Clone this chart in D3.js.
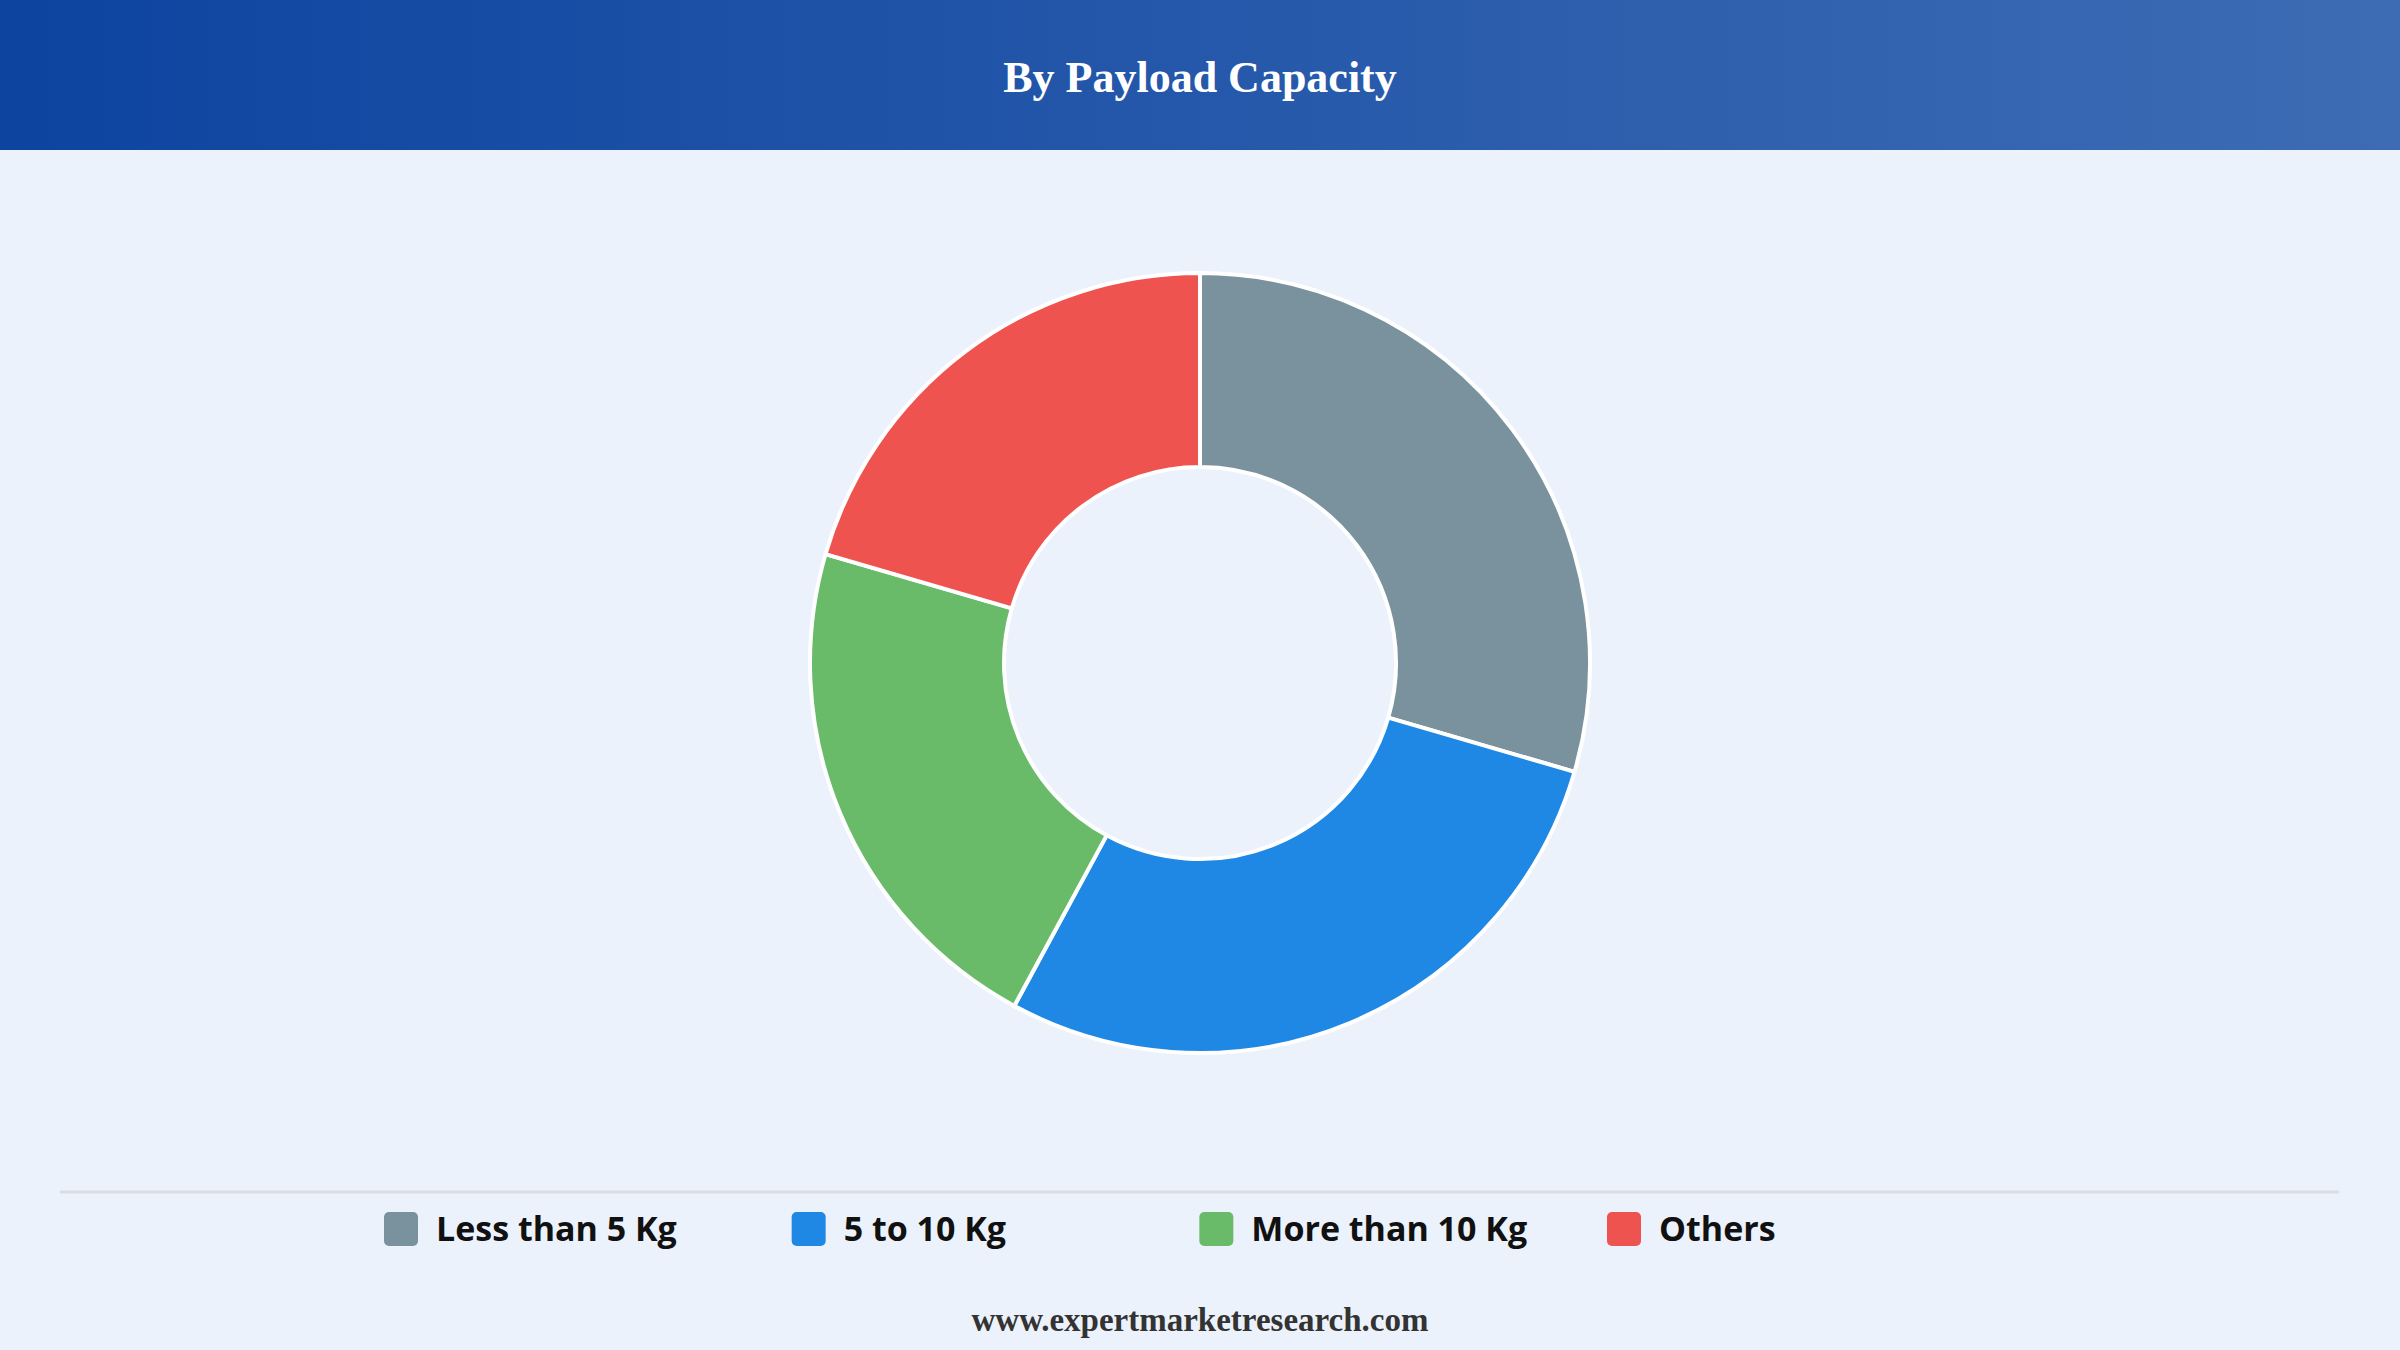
<!DOCTYPE html>
<html><head><meta charset="utf-8">
<script src="https://cdn.jsdelivr.net/npm/d3@7"></script>
<style>html,body{margin:0;padding:0;background:#ebf2fb;}svg{display:block}</style>
</head><body>
<svg id="c" width="2400" height="1350"></svg>
<script>
const categories = ["Less than 5 Kg","5 to 10 Kg","More than 10 Kg","Others"];
const values = [29.5, 28.4, 21.6, 20.5];
const colors = ["#7a929d","#1f88e5","#69bb6a","#ef5350"];
const title = "By Payload Capacity";
const footer = "www.expertmarketresearch.com";

const svg = d3.select("#c");
const W = 2400, H = 1350;
svg.append("rect").attr("width",W).attr("height",H).attr("fill","#ebf2fb");
const defs = svg.append("defs");
const g = defs.append("linearGradient").attr("id","hg");
g.append("stop").attr("offset","0%").attr("stop-color","#0d44a0");
g.append("stop").attr("offset","100%").attr("stop-color","#3d6cb4");
svg.append("rect").attr("width",W).attr("height",150).attr("fill","url(#hg)");
svg.append("text").attr("x",W/2).attr("y",92).attr("text-anchor","middle")
  .attr("fill","#fff").attr("font-family","Liberation Serif, serif").attr("font-weight","bold")
  .attr("font-size",44).text(title);

const pie = d3.pie().sort(null).value(d=>d)(values);
const arc = d3.arc().innerRadius(196).outerRadius(390);
svg.append("g").attr("transform","translate(1200,663)")
  .selectAll("path").data(pie).join("path")
  .attr("d",arc).attr("fill",(d,i)=>colors[i]).attr("stroke","#fff").attr("stroke-width",4);

svg.append("line").attr("x1",60).attr("x2",2339).attr("y1",1192).attr("y2",1192)
  .attr("stroke","#d9dde3").attr("stroke-width",3);

const lx = d3.scalePoint().domain(categories).range([384,1607]);
const lg = svg.append("g").selectAll("g").data(categories).join("g")
  .attr("transform",d=>`translate(${lx(d)},1229)`);
lg.append("rect").attr("x",0).attr("y",-17).attr("width",34).attr("height",34).attr("rx",5)
  .attr("fill",(d,i)=>colors[i]);
lg.append("text").attr("x",52).attr("y",12).attr("font-family","Open Sans, sans-serif")
  .attr("font-weight","bold").attr("font-size",34).attr("fill","#111").text(d=>d);

svg.append("text").attr("x",W/2).attr("y",1331).attr("text-anchor","middle")
  .attr("fill","#333").attr("font-family","Liberation Serif, serif").attr("font-weight","bold")
  .attr("font-size",33).text(footer);
</script>
</body></html>
